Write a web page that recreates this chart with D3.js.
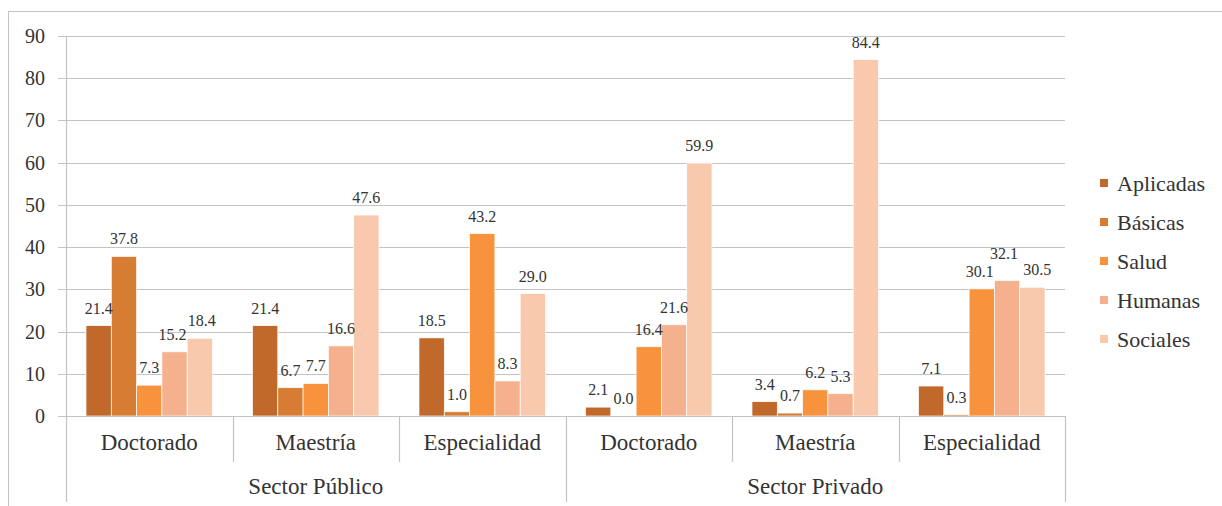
<!DOCTYPE html>
<html>
<head>
<meta charset="utf-8">
<script src="https://cdn.jsdelivr.net/npm/d3@7/dist/d3.min.js"></script>
<style>
  html, body { margin: 0; padding: 0; background: #fff; }
  svg { display: block; }
</style>
</head>
<body>
<svg id="chart" width="1222" height="506"></svg>
<script>
// Programas de posgrado por sector y área del conocimiento (%)
const sectors = ["Sector Público", "Sector Privado"];
const levels = ["Doctorado", "Maestría", "Especialidad"];
const areas = ["Aplicadas", "Básicas", "Salud", "Humanas", "Sociales"];
const areaColors = ["#C0692B", "#D67C33", "#F7923D", "#F5B18E", "#F9C9AE"];

const publicoDoctorado    = [21.4, 37.8, 7.3, 15.2, 18.4];
const publicoMaestria     = [21.4, 6.7, 7.7, 16.6, 47.6];
const publicoEspecialidad = [18.5, 1.0, 43.2, 8.3, 29.0];
const privadoDoctorado    = [2.1, 0.0, 16.4, 21.6, 59.9];
const privadoMaestria     = [3.4, 0.7, 6.2, 5.3, 84.4];
const privadoEspecialidad = [7.1, 0.3, 30.1, 32.1, 30.5];

const yTicks = [0, 10, 20, 30, 40, 50, 60, 70, 80, 90];

const groups = [
  { sector: sectors[0], level: levels[0], values: publicoDoctorado },
  { sector: sectors[0], level: levels[1], values: publicoMaestria },
  { sector: sectors[0], level: levels[2], values: publicoEspecialidad },
  { sector: sectors[1], level: levels[0], values: privadoDoctorado },
  { sector: sectors[1], level: levels[1], values: privadoMaestria },
  { sector: sectors[1], level: levels[2], values: privadoEspecialidad }
];
groups.forEach((g, i) => g.key = "g" + i);

// pick the first installed Times-like face
function hasFont(name) {
  const ctx = document.createElement("canvas").getContext("2d");
  const probe = "mmmmmmmmwwwwwlliiiDoctorado0123456789";
  ctx.font = "40px monospace";
  const a = ctx.measureText(probe).width;
  ctx.font = `40px "${name}", monospace`;
  const b = ctx.measureText(probe).width;
  return Math.abs(a - b) > 0.5;
}
const serifCandidates = ["Liberation Serif", "Times New Roman", "Tinos", "DejaVu Serif", "Noto Serif", "FreeSerif", "Times"];
const serifFace = serifCandidates.find(hasFont);
const FONT = serifFace ? `"${serifFace}", serif` : "serif";
const INK = "#333";

// hand nudges for crowded value labels: "group:area" -> [dx, dy]
const labelNudge = {
  "g0:Humanas": [-2, 0],
  "g0:Sociales": [2, 0],
  "g5:Salud": [-2, 0],
  "g5:Humanas": [-3, -9],
  "g5:Sociales": [5, 0]
};

const svg = d3.select("#chart");

// outer frame
svg.append("rect")
  .attr("x", 8.5).attr("y", 11.5)
  .attr("width", 1300).attr("height", 600)
  .attr("fill", "none").attr("stroke", "#c4c4c4").attr("stroke-width", 1);

const plotLeft = 66, plotRight = 1065, plotTop = 36, plotBottom = 416;

const y = d3.scaleLinear().domain([0, 90]).range([plotBottom, plotTop]);
const x0 = d3.scaleBand().domain(groups.map(g => g.key)).range([plotLeft, plotRight]).padding(0);
const x1 = d3.scaleBand().domain(areas)
  .range([20, x0.bandwidth() - 20]).paddingInner(0);
const color = d3.scaleOrdinal().domain(areas).range(areaColors);

function label(sel, size) {
  return sel.style("font-family", FONT)
    .style("font-size", size + "px")
    .attr("fill", INK);
}

// horizontal gridlines
svg.append("g")
  .selectAll("line")
  .data(yTicks)
  .join("line")
  .attr("x1", plotLeft - 8).attr("x2", plotRight)
  .attr("y1", d => Math.round(y(d)) + 0.5).attr("y2", d => Math.round(y(d)) + 0.5)
  .attr("stroke", "#c4c4c4").attr("stroke-width", 1.2);

// y tick labels
svg.append("g")
  .selectAll("text")
  .data(yTicks)
  .join("text")
  .attr("x", 45).attr("y", d => y(d))
  .attr("dy", "0.35em")
  .attr("text-anchor", "end")
  .call(label, 20)
  .text(d => d);

// vertical axis line
svg.append("line")
  .attr("x1", plotLeft + 0.5).attr("x2", plotLeft + 0.5)
  .attr("y1", plotTop).attr("y2", plotBottom)
  .attr("stroke", "#c4c4c4").attr("stroke-width", 1.2);

// bars
const gGroups = svg.append("g")
  .selectAll("g")
  .data(groups)
  .join("g")
  .attr("transform", d => `translate(${x0(d.key)},0)`);

const cells = g => g.values.map((v, i) => ({ key: g.key, area: areas[i], value: v }));

gGroups.selectAll("rect")
  .data(cells)
  .join("rect")
  .attr("x", d => x1(d.area))
  .attr("y", d => y(d.value))
  .attr("width", x1.bandwidth())
  .attr("height", d => y(0) - y(d.value))
  .attr("fill", d => color(d.area))
  .attr("stroke", "#fff").attr("stroke-width", 0.7);

// value labels
const nudge = d => labelNudge[d.key + ":" + d.area] || [0, 0];
gGroups.selectAll("text")
  .data(cells)
  .join("text")
  .attr("x", d => x1(d.area) + x1.bandwidth() / 2 + nudge(d)[0])
  .attr("y", d => y(d.value) - 12 + nudge(d)[1])
  .attr("text-anchor", "middle")
  .call(label, 16)
  .text(d => d.value.toFixed(1));

// category axis baseline
svg.append("line")
  .attr("x1", plotLeft).attr("x2", plotRight)
  .attr("y1", plotBottom + 0.5).attr("y2", plotBottom + 0.5)
  .attr("stroke", "#c4c4c4").attr("stroke-width", 1.2);

// separators between levels and sectors
const sepX = d3.range(groups.length + 1).map(i => i === groups.length ? plotRight : x0(groups[i].key));
svg.append("g")
  .selectAll("line")
  .data(sepX)
  .join("line")
  .attr("x1", d => Math.round(d) + 0.5).attr("x2", d => Math.round(d) + 0.5)
  .attr("y1", plotBottom)
  .attr("y2", (d, i) => i % 3 === 0 ? 502 : 462)
  .attr("stroke", "#c4c4c4").attr("stroke-width", 1.2);

// level labels
svg.append("g")
  .selectAll("text")
  .data(groups)
  .join("text")
  .attr("x", d => x0(d.key) + x0.bandwidth() / 2)
  .attr("y", 450)
  .attr("text-anchor", "middle")
  .call(label, 23)
  .text(d => d.level);

// sector labels
svg.append("g")
  .selectAll("text")
  .data(sectors)
  .join("text")
  .attr("x", (d, i) => x0(groups[i * 3].key) + x0.bandwidth() * 1.5)
  .attr("y", 494)
  .attr("text-anchor", "middle")
  .call(label, 23)
  .text(d => d);

// legend
const legend = svg.append("g")
  .selectAll("g")
  .data(areas)
  .join("g")
  .attr("transform", (d, i) => `translate(1100, ${183 + i * 39})`);

legend.append("rect")
  .attr("x", 0).attr("y", -4)
  .attr("width", 8).attr("height", 8)
  .attr("fill", d => color(d));

legend.append("text")
  .attr("x", 17).attr("y", 0)
  .attr("dy", "0.35em")
  .call(label, 22)
  .text(d => d);
</script>
</body>
</html>
